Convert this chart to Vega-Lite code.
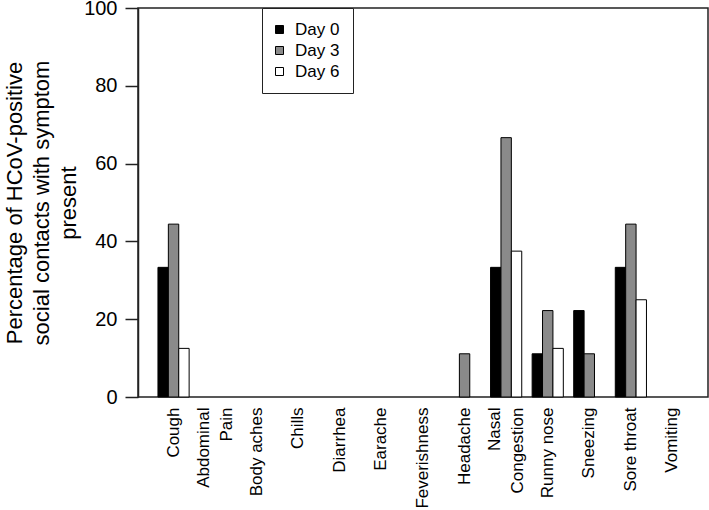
{
  "$schema": "https://vega.github.io/schema/vega-lite/v6.json",
  "width": 570,
  "height": 389,
  "autosize": {"type": "none"},
  "padding": {"left": 138, "top": 8, "right": 1, "bottom": 113},
  "background": "white",
  "config": {
    "font": "Liberation Sans",
    "view": {"stroke": "#222222", "strokeWidth": 1.5},
    "axis": {"grid": false, "labelColor": "#000000", "titleColor": "#000000", "titleFontWeight": "normal"}
  },
  "data": {
    "values": [
      {"symptom": "Cough", "day": "Day 0", "pct": 33.33},
      {"symptom": "Cough", "day": "Day 3", "pct": 44.44},
      {"symptom": "Cough", "day": "Day 6", "pct": 12.5},
      {"symptom": "Abdominal\nPain", "day": "Day 0", "pct": 0},
      {"symptom": "Abdominal\nPain", "day": "Day 3", "pct": 0},
      {"symptom": "Abdominal\nPain", "day": "Day 6", "pct": 0},
      {"symptom": "Body aches", "day": "Day 0", "pct": 0},
      {"symptom": "Body aches", "day": "Day 3", "pct": 0},
      {"symptom": "Body aches", "day": "Day 6", "pct": 0},
      {"symptom": "Chills", "day": "Day 0", "pct": 0},
      {"symptom": "Chills", "day": "Day 3", "pct": 0},
      {"symptom": "Chills", "day": "Day 6", "pct": 0},
      {"symptom": "Diarrhea", "day": "Day 0", "pct": 0},
      {"symptom": "Diarrhea", "day": "Day 3", "pct": 0},
      {"symptom": "Diarrhea", "day": "Day 6", "pct": 0},
      {"symptom": "Earache", "day": "Day 0", "pct": 0},
      {"symptom": "Earache", "day": "Day 3", "pct": 0},
      {"symptom": "Earache", "day": "Day 6", "pct": 0},
      {"symptom": "Feverishness", "day": "Day 0", "pct": 0},
      {"symptom": "Feverishness", "day": "Day 3", "pct": 0},
      {"symptom": "Feverishness", "day": "Day 6", "pct": 0},
      {"symptom": "Headache", "day": "Day 0", "pct": 0},
      {"symptom": "Headache", "day": "Day 3", "pct": 11.11},
      {"symptom": "Headache", "day": "Day 6", "pct": 0},
      {"symptom": "Nasal\nCongestion", "day": "Day 0", "pct": 33.33},
      {"symptom": "Nasal\nCongestion", "day": "Day 3", "pct": 66.67},
      {"symptom": "Nasal\nCongestion", "day": "Day 6", "pct": 37.5},
      {"symptom": "Runny nose", "day": "Day 0", "pct": 11.11},
      {"symptom": "Runny nose", "day": "Day 3", "pct": 22.22},
      {"symptom": "Runny nose", "day": "Day 6", "pct": 12.5},
      {"symptom": "Sneezing", "day": "Day 0", "pct": 22.22},
      {"symptom": "Sneezing", "day": "Day 3", "pct": 11.11},
      {"symptom": "Sneezing", "day": "Day 6", "pct": 0},
      {"symptom": "Sore throat", "day": "Day 0", "pct": 33.33},
      {"symptom": "Sore throat", "day": "Day 3", "pct": 44.44},
      {"symptom": "Sore throat", "day": "Day 6", "pct": 25},
      {"symptom": "Vomiting", "day": "Day 0", "pct": 0},
      {"symptom": "Vomiting", "day": "Day 3", "pct": 0},
      {"symptom": "Vomiting", "day": "Day 6", "pct": 0}
    ]
  },
  "transform": [{"filter": "datum.pct > 0"}],
  "mark": {"type": "bar", "stroke": "#000000", "strokeWidth": 1},
  "encoding": {
    "x": {
      "field": "symptom",
      "type": "nominal",
      "sort": ["Cough", "Abdominal\nPain", "Body aches", "Chills", "Diarrhea", "Earache", "Feverishness", "Headache", "Nasal\nCongestion", "Runny nose", "Sneezing", "Sore throat", "Vomiting"],
      "scale": {"paddingInner": 0.25, "paddingOuter": 0.48, "domain": ["Cough", "Abdominal\nPain", "Body aches", "Chills", "Diarrhea", "Earache", "Feverishness", "Headache", "Nasal\nCongestion", "Runny nose", "Sneezing", "Sore throat", "Vomiting"]},
      "axis": {
        "title": null,
        "domain": false,
        "ticks": false,
        "labelAngle": -90,
        "labelAlign": "right",
        "labelBaseline": "middle",
        "labelFontSize": 17,
        "labelPadding": 10,
        "labelLineHeight": 23,
        "labelOffset": {"condition": {"test": "indexof(datum.value, '\\n') >= 0", "value": -11.5}, "value": 0},
        "labelExpr": "split(datum.label, '\\n')"
      }
    },
    "xOffset": {"field": "day", "type": "nominal", "scale": {"paddingInner": 0, "paddingOuter": 0}},
    "y": {
      "field": "pct",
      "type": "quantitative",
      "scale": {"domain": [0, 100], "nice": false},
      "axis": {
        "values": [0, 20, 40, 60, 80, 100],
        "title": ["Percentage of HCoV-positive", "social contacts with symptom", "present"],
        "titleFontSize": 22,
        "titleLineHeight": 27,
        "titlePadding": 3,
        "labelFontSize": 20,
        "labelPadding": 8,
        "tickSize": 13,
        "tickWidth": 1.5,
        "tickColor": "#222222",
        "domainColor": "#222222",
        "domainWidth": 1.5
      }
    },
    "color": {
      "field": "day",
      "type": "nominal",
      "scale": {"domain": ["Day 0", "Day 3", "Day 6"], "range": ["#000000", "#8a8a8a", "#ffffff"]},
      "legend": {
        "title": null,
        "orient": "none",
        "legendX": 124,
        "legendY": 0,
        "strokeColor": "#222222",
        "padding": 13,
        "symbolType": "square",
        "symbolSize": 64,
        "symbolStrokeColor": "#000000",
        "symbolStrokeWidth": 1,
        "symbolOffset": -4,
        "labelFontSize": 17,
        "labelOffset": 7,
        "rowPadding": 3,
        "labelColor": "#000000",
        "fillColor": "white"
      }
    }
  }
}
